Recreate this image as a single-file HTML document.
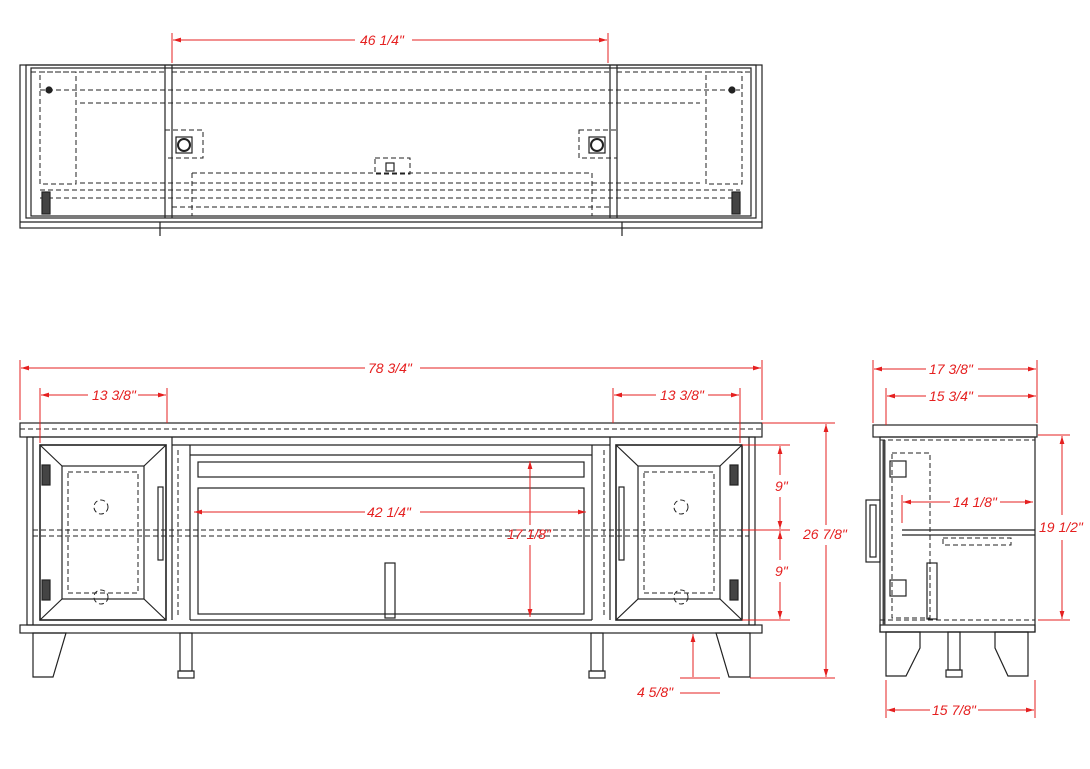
<!DOCTYPE html>
<html><head><style>body{margin:0;background:#fff}svg{display:block}text{font-family:"Liberation Sans",sans-serif;font-style:italic;font-size:14px;fill:#e52020}</style></head>
<body>
<svg width="1090" height="769" viewBox="0 0 1090 769" xmlns="http://www.w3.org/2000/svg">
<defs>
<marker id="a" viewBox="0 0 10 10" refX="10" refY="5" markerWidth="8" markerHeight="8" orient="auto-start-reverse"><path d="M0,2 L10,5 L0,8z" fill="#e52020"/></marker>
</defs>
<g fill="none" stroke="#222" stroke-width="1.2">
<rect x="20" y="65" width="742" height="163"/>
<rect x="26" y="65" width="730" height="153"/>
<line x1="20" y1="222" x2="762" y2="222"/>
<line x1="165" y1="65" x2="165" y2="218"/><line x1="172" y1="65" x2="172" y2="218"/>
<line x1="610" y1="65" x2="610" y2="218"/><line x1="617" y1="65" x2="617" y2="218"/>
<rect x="31" y="68" width="720" height="148"/>
<g stroke-dasharray="5,3" stroke-width="1">
<line x1="172" y1="72" x2="610" y2="72"/><line x1="617" y1="72" x2="751" y2="72"/><line x1="31" y1="72" x2="165" y2="72"/>
<line x1="40" y1="90" x2="740" y2="90"/><line x1="80" y1="103" x2="700" y2="103"/>
<line x1="80" y1="183" x2="700" y2="183"/><line x1="40" y1="190" x2="740" y2="190"/>
<line x1="40" y1="198" x2="740" y2="198"/><line x1="172" y1="207" x2="610" y2="207"/>
<line x1="192" y1="173" x2="592" y2="173"/><line x1="192" y1="173" x2="192" y2="216"/><line x1="592" y1="173" x2="592" y2="216"/>
<rect x="40" y="72" width="36" height="112"/><rect x="706" y="72" width="36" height="112"/>
<rect x="165" y="130" width="38" height="28"/><rect x="579" y="130" width="38" height="28"/>
<rect x="375" y="158" width="35" height="16"/>
</g>
<circle cx="184" cy="145" r="6" stroke-width="2"/><rect x="176" y="137" width="16" height="16"/>
<circle cx="597" cy="145" r="6" stroke-width="2"/><rect x="589" y="137" width="16" height="16"/>
<rect x="386" y="163" width="8" height="8"/>
<circle cx="49" cy="90" r="3" fill="#222"/><circle cx="732" cy="90" r="3" fill="#222"/>
<rect x="42" y="192" width="8" height="22" fill="#444"/><rect x="732" y="192" width="8" height="22" fill="#444"/>
<line x1="160" y1="222" x2="160" y2="236"/><line x1="622" y1="222" x2="622" y2="236"/>

<rect x="20" y="423" width="742" height="14"/>
<rect x="27" y="437" width="728" height="188"/>
<line x1="33" y1="437" x2="33" y2="625"/><line x1="749" y1="437" x2="749" y2="625"/>
<rect x="20" y="625" width="742" height="8"/>
<rect x="40" y="445" width="126" height="175" stroke-width="1.6"/>
<rect x="62" y="466" width="82" height="133"/>
<line x1="40" y1="445" x2="62" y2="466"/><line x1="166" y1="445" x2="144" y2="466"/>
<line x1="40" y1="620" x2="62" y2="599"/><line x1="166" y1="620" x2="144" y2="599"/>
<rect x="616" y="445" width="126" height="175" stroke-width="1.6"/>
<rect x="638" y="466" width="82" height="133"/>
<line x1="616" y1="445" x2="638" y2="466"/><line x1="742" y1="445" x2="720" y2="466"/>
<line x1="616" y1="620" x2="638" y2="599"/><line x1="742" y1="620" x2="720" y2="599"/>
<line x1="172" y1="437" x2="172" y2="620"/><line x1="190" y1="445" x2="190" y2="620"/>
<line x1="610" y1="437" x2="610" y2="620"/><line x1="592" y1="445" x2="592" y2="620"/>
<line x1="172" y1="445" x2="610" y2="445"/>
<rect x="198" y="462" width="386" height="15"/>
<rect x="198" y="488" width="386" height="126"/>
<line x1="190" y1="455" x2="592" y2="455"/><line x1="190" y1="620" x2="592" y2="620"/>
<rect x="385" y="563" width="10" height="55"/>
<g stroke-dasharray="5,3" stroke-width="1">
<line x1="33" y1="530" x2="749" y2="530"/><line x1="33" y1="536" x2="749" y2="536"/>
<rect x="68" y="472" width="70" height="121"/><rect x="644" y="472" width="70" height="121"/>
<circle cx="101" cy="507" r="7"/><circle cx="101" cy="597" r="7"/>
<circle cx="681" cy="507" r="7"/><circle cx="681" cy="597" r="7"/>
<line x1="20" y1="429" x2="762" y2="429"/>
<line x1="178" y1="450" x2="178" y2="618"/><line x1="604" y1="450" x2="604" y2="618"/>
</g>
<rect x="158" y="487" width="5" height="73"/><rect x="619" y="487" width="5" height="73"/>
<rect x="42" y="465" width="8" height="20" fill="#444"/><rect x="42" y="580" width="8" height="20" fill="#444"/>
<rect x="730" y="465" width="8" height="20" fill="#444"/><rect x="730" y="580" width="8" height="20" fill="#444"/>
<path d="M33,633 L66,633 L53,677 L33,677 Z"/>
<path d="M716,633 L750,633 L750,677 L729,677 Z"/>
<rect x="180" y="633" width="12" height="38"/><rect x="178" y="671" width="16" height="7"/>
<rect x="591" y="633" width="12" height="38"/><rect x="589" y="671" width="16" height="7"/>

<rect x="873" y="425" width="164" height="12"/>
<rect x="880" y="437" width="155" height="195"/>
<rect x="880" y="625" width="155" height="7"/>
<rect x="866" y="500" width="14" height="62"/><rect x="870" y="505" width="6" height="52"/>
<line x1="884" y1="440" x2="884" y2="625" stroke-width="3" stroke="#444"/>
<line x1="902" y1="530" x2="1035" y2="530"/><line x1="902" y1="535" x2="1035" y2="535"/>
<rect x="927" y="563" width="10" height="56"/>
<g stroke-dasharray="5,3" stroke-width="1">
<line x1="880" y1="440" x2="1035" y2="440"/><line x1="880" y1="620" x2="1035" y2="620"/>
<rect x="892" y="453" width="38" height="165"/><rect x="943" y="538" width="68" height="7"/>
</g>
<rect x="890" y="461" width="16" height="16"/><rect x="890" y="580" width="16" height="16"/>
<path d="M886,632 L920,632 L920,648 L906,676 L886,676 Z"/>
<path d="M995,632 L1028,632 L1028,676 L1008,676 L995,648 Z"/>
<rect x="948" y="632" width="12" height="38"/><rect x="946" y="670" width="16" height="7"/>
</g>

<g stroke="#e52020" stroke-width="1" fill="none">
<line x1="172" y1="33" x2="172" y2="63"/><line x1="608" y1="33" x2="608" y2="63"/>
<line x1="173" y1="40" x2="355" y2="40" marker-start="url(#a)"/><line x1="412" y1="40" x2="607" y2="40" marker-end="url(#a)"/>
<line x1="20" y1="360" x2="20" y2="420"/><line x1="762" y1="360" x2="762" y2="420"/>
<line x1="21" y1="368" x2="365" y2="368" marker-start="url(#a)"/><line x1="420" y1="368" x2="761" y2="368" marker-end="url(#a)"/>
<line x1="40" y1="388" x2="40" y2="443"/><line x1="167" y1="388" x2="167" y2="423"/>
<line x1="41" y1="395" x2="88" y2="395" marker-start="url(#a)"/><line x1="138" y1="395" x2="166" y2="395" marker-end="url(#a)"/>
<line x1="613" y1="388" x2="613" y2="423"/><line x1="740" y1="388" x2="740" y2="443"/>
<line x1="614" y1="395" x2="656" y2="395" marker-start="url(#a)"/><line x1="708" y1="395" x2="739" y2="395" marker-end="url(#a)"/>
<line x1="194" y1="512" x2="365" y2="512" marker-start="url(#a)"/><line x1="420" y1="512" x2="586" y2="512" marker-end="url(#a)"/>
<line x1="530" y1="461" x2="530" y2="525" marker-start="url(#a)"/><line x1="530" y1="545" x2="530" y2="617" marker-end="url(#a)"/>
<line x1="742" y1="445" x2="790" y2="445"/><line x1="742" y1="530" x2="790" y2="530"/><line x1="742" y1="620" x2="790" y2="620"/>
<line x1="780" y1="446" x2="780" y2="475" marker-start="url(#a)"/><line x1="780" y1="497" x2="780" y2="529" marker-end="url(#a)"/>
<line x1="780" y1="531" x2="780" y2="560" marker-start="url(#a)"/><line x1="780" y1="582" x2="780" y2="619" marker-end="url(#a)"/>
<line x1="762" y1="423" x2="835" y2="423"/><line x1="750" y1="678" x2="835" y2="678"/>
<line x1="826" y1="424" x2="826" y2="525" marker-start="url(#a)"/><line x1="826" y1="545" x2="826" y2="677" marker-end="url(#a)"/>
<line x1="693" y1="634" x2="693" y2="677" marker-start="url(#a)"/><line x1="680" y1="678" x2="720" y2="678"/>
<line x1="680" y1="693" x2="720" y2="693"/>
<line x1="873" y1="360" x2="873" y2="423"/><line x1="1037" y1="360" x2="1037" y2="423"/>
<line x1="874" y1="369" x2="926" y2="369" marker-start="url(#a)"/><line x1="978" y1="369" x2="1036" y2="369" marker-end="url(#a)"/>
<line x1="886" y1="388" x2="886" y2="425"/>
<line x1="887" y1="396" x2="926" y2="396" marker-start="url(#a)"/><line x1="978" y1="396" x2="1036" y2="396" marker-end="url(#a)"/>
<line x1="902" y1="495" x2="902" y2="523"/>
<line x1="903" y1="502" x2="950" y2="502" marker-start="url(#a)"/><line x1="1000" y1="502" x2="1033" y2="502" marker-end="url(#a)"/>
<line x1="1038" y1="435" x2="1070" y2="435"/><line x1="1038" y1="620" x2="1070" y2="620"/>
<line x1="1062" y1="436" x2="1062" y2="515" marker-start="url(#a)"/><line x1="1062" y1="540" x2="1062" y2="619" marker-end="url(#a)"/>
<line x1="886" y1="680" x2="886" y2="718"/><line x1="1035" y1="680" x2="1035" y2="718"/>
<line x1="887" y1="710" x2="930" y2="710" marker-start="url(#a)"/><line x1="978" y1="710" x2="1034" y2="710" marker-end="url(#a)"/>
</g>
<text x="360" y="45">46 1/4"</text>
<text x="368" y="373">78 3/4"</text>
<text x="92" y="400">13 3/8"</text>
<text x="660" y="400">13 3/8"</text>
<text x="367" y="517">42 1/4"</text>
<text x="507" y="539">17 1/8"</text>
<text x="775" y="491">9"</text>
<text x="775" y="576">9"</text>
<text x="803" y="539">26 7/8"</text>
<text x="637" y="697">4 5/8"</text>
<text x="929" y="374">17 3/8"</text>
<text x="929" y="401">15 3/4"</text>
<text x="953" y="507">14 1/8"</text>
<text x="1039" y="532">19 1/2"</text>
<text x="932" y="715">15 7/8"</text>
</svg>
</body></html>
